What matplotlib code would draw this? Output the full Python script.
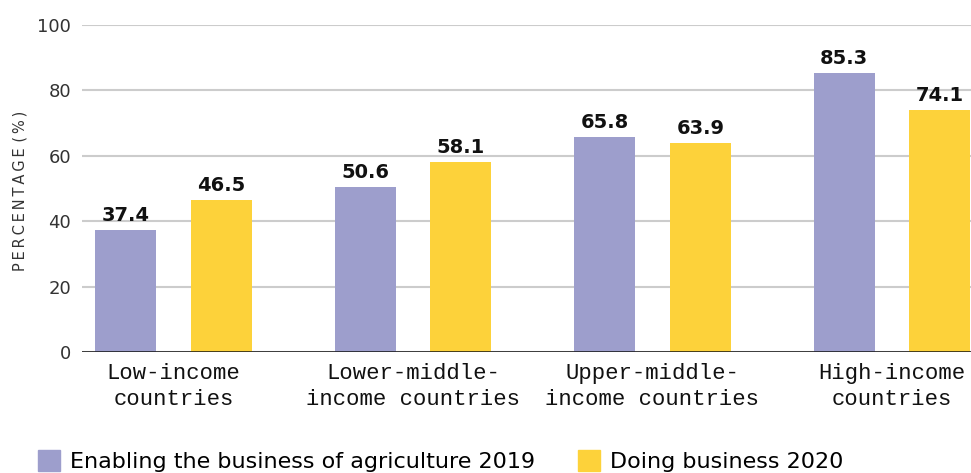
import numpy as np
import matplotlib.pyplot as plt
from matplotlib.patches import Patch

categories = ["Low-income\ncountries", "Lower-middle-\nincome countries",
              "Upper-middle-\nincome countries", "High-income\ncountries"]
eba_2019 = [37.4, 50.6, 65.8, 85.3]
db_2020 = [46.5, 58.1, 63.9, 74.1]
series_names = ["Enabling the business of agriculture 2019", "Doing business 2020"]
yticks = [0, 20, 40, 60, 80, 100]

purple = "#9d9ecc"
yellow = "#fdd23a"

fig = plt.figure(figsize=(9.71, 4.73), dpi=100)
ax = fig.add_axes([82 / 971, 121 / 473, 1 - 82 / 971, 327 / 473])

x = np.arange(len(categories))
w = 0.255
off = 0.2
b1 = ax.bar(x - off, eba_2019, w, color=purple, zorder=3)
b2 = ax.bar(x + off, db_2020, w, color=yellow, zorder=3)

for bars, vals in [(b1, eba_2019), (b2, db_2020)]:
    for rect, v in zip(bars, vals):
        ax.text(rect.get_x() + rect.get_width() / 2, v + 1.4, f"{v:.1f}",
                ha="center", va="bottom", fontsize=14, fontweight="bold",
                color="#111111", zorder=4)

ax.set_xlim(-0.382, 3.33)
ax.set_ylim(0, 100)
ax.set_yticks(yticks)
ax.set_yticklabels([str(t) for t in yticks], fontsize=13, color="#333333")
ax.yaxis.grid(True, color="#cccccc", linewidth=1.5, zorder=0)
ax.axhline(0, color="#111111", linewidth=1.8, zorder=5)
ax.set_xticks(x)
ax.set_xticklabels(categories, fontsize=16, family="Liberation Mono",
                   color="#111111", linespacing=1.3)
ax.tick_params(axis="both", length=0)
ax.tick_params(axis="x", pad=8)
ax.tick_params(axis="y", pad=8)
for s in ax.spines.values():
    s.set_visible(False)

ylab = "\u2009".join("PERCENTAGE") + "\u2009\u2009(\u2009%\u2009)"
fig.text(20 / 971, 1 - 191 / 473, ylab, rotation=90, ha="center", va="center",
         fontsize=10.5, color="#333333")

handles = [Patch(color=purple), Patch(color=yellow)]
fig.legend(handles, series_names, loc="lower left",
           bbox_to_anchor=(18 / 971, -0.04), ncol=2, frameon=False,
           prop={"family": ["Liberation Sans Narrow", "DejaVu Sans"], "size": 16},
           handlelength=1.0, handleheight=1.1, handletextpad=0.45,
           columnspacing=1.9)

fig.savefig("out.png", dpi=100)
